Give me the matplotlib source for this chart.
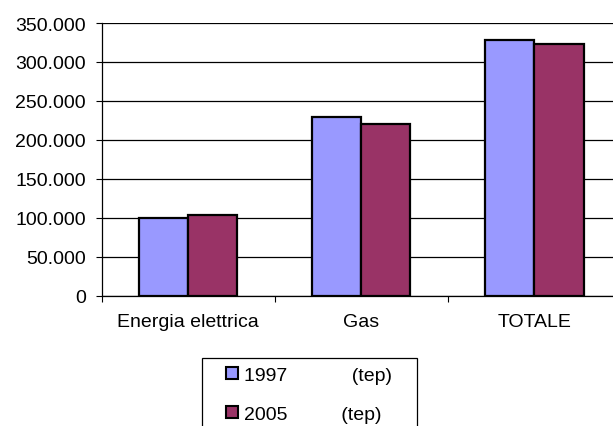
import matplotlib
matplotlib.use("Agg")
import matplotlib.pyplot as plt
from matplotlib.patches import Patch, Rectangle
from matplotlib.ticker import FixedLocator, FuncFormatter
import numpy as np

categories = ["Energia elettrica", "Gas", "TOTALE"]
series_names = ["1997", "2005"]
unit = "(tep)"
values_1997 = [99500, 229000, 328500]
values_2005 = [103000, 220000, 323000]
y_ticks = [0, 50000, 100000, 150000, 200000, 250000, 300000, 350000]

colors = ["#9999FF", "#993366"]

FS = 14
plt.rcParams["font.family"] = ["Liberation Sans", "DejaVu Sans"]
plt.rcParams["font.size"] = FS

W, H = 613, 427
fig = plt.figure(figsize=(W / 100, H / 100), dpi=100)

# plot area in pixel coordinates (extends slightly past the right edge)
left_px, right_px, top_px, bottom_px = 101.6, 621.0, 24.0, 296.7
ax = fig.add_axes([left_px / W, 1 - bottom_px / H,
                   (right_px - left_px) / W, (bottom_px - top_px) / H])

x = np.arange(len(categories))
bw = 0.284
ax.bar(x - bw / 2, values_1997, bw, color=colors[0], edgecolor="black",
       linewidth=1.6, zorder=3)
ax.bar(x + bw / 2, values_2005, bw, color=colors[1], edgecolor="black",
       linewidth=1.6, zorder=3)

ax.set_xlim(-0.5, len(categories) - 0.5)
ax.set_ylim(0, 350000)

ax.set_yticks(y_ticks)
ax.yaxis.set_major_formatter(
    FuncFormatter(lambda v, p: "0" if v == 0 else f"{v:,.0f}".replace(",", ".")))
ax.tick_params(axis="y", direction="out", length=4.3, width=0.8, pad=7.0,
               labelsize=FS, color="black")

ax.set_xticks(x)
ax.set_xticklabels(categories)
ax.tick_params(axis="x", which="major", length=0, pad=12.5, labelsize=FS)
ax.xaxis.set_minor_locator(FixedLocator(np.arange(-0.5, len(categories), 1.0)))
ax.tick_params(axis="x", which="minor", direction="out", length=4.3,
               width=0.8, color="black")

ax.grid(axis="y", color="black", linewidth=0.9, zorder=0)
ax.set_axisbelow(True)
for s in ["top", "right"]:
    ax.spines[s].set_visible(False)
for s in ["left", "bottom"]:
    ax.spines[s].set_color("black")
    ax.spines[s].set_linewidth(0.9)

# legend box
box_l, box_r, box_t, box_b = 202.3, 416.7, 358.5, 440.0
fig.patches.append(Rectangle((box_l / W, 1 - box_b / H), (box_r - box_l) / W,
                             (box_b - box_t) / H, transform=fig.transFigure,
                             facecolor="white", edgecolor="black",
                             linewidth=0.9, clip_on=False))

handles = [Patch(facecolor=colors[0], edgecolor="black", linewidth=1.5),
           Patch(facecolor=colors[1], edgecolor="black", linewidth=1.5)]
labels = [series_names[0] + " " * 12 + unit,
          series_names[1] + " " * 10 + unit]
fig.legend(handles, labels, loc="upper left",
           bbox_to_anchor=(226 / W, 1 - 368 / H), frameon=False,
           fontsize=FS, handlelength=0.6, handleheight=0.6,
           handletextpad=0.35, labelspacing=1.12, borderpad=0,
           borderaxespad=0)

fig.savefig("out.png", dpi=100)
